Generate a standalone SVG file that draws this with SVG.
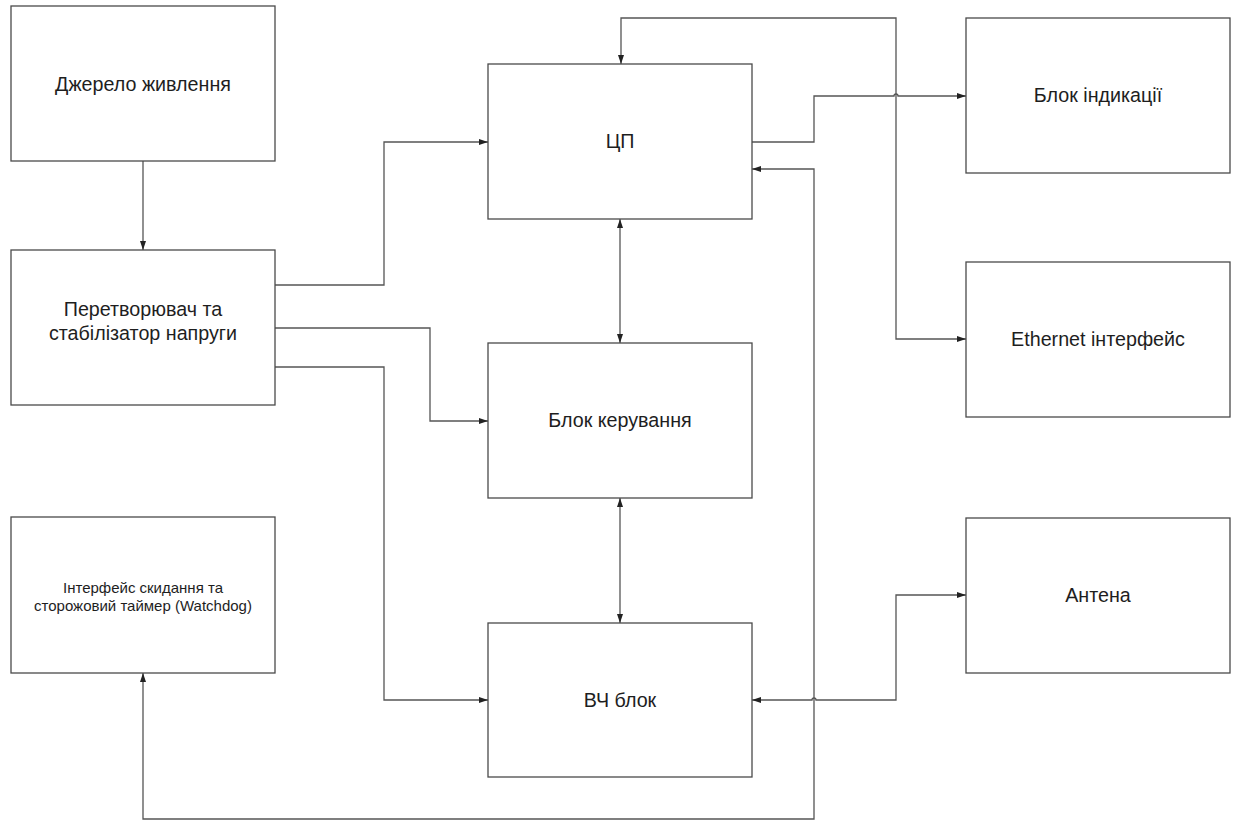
<svg xmlns="http://www.w3.org/2000/svg" width="1235" height="821" viewBox="0 0 1235 821">
  <style>
    .box { fill: #ffffff; stroke: #4a4a4a; stroke-width: 1.3; }
    .lbl { font-family: "Liberation Sans", Arial, sans-serif; font-size: 19.7px; fill: #1e1e1e; text-anchor: middle; }
    .sm { font-size: 15px; }
    .wire { fill: none; stroke: #555555; stroke-width: 1.3; }
    .one { marker-end: url(#arrow); }
    .two { marker-start: url(#arrow); marker-end: url(#arrow); }
  </style>
  <defs>
    <marker id="arrow" markerUnits="userSpaceOnUse" markerWidth="10" markerHeight="7" refX="9" refY="3" orient="auto-start-reverse">
      <path d="M0,0 L9,3 L0,6 z" fill="#222222"/>
    </marker>
  </defs>
  <rect width="1235" height="821" fill="#ffffff"/>

  <!-- connectors -->
  <g id="connectors">
    <path class="wire one" d="M143 161 V250"/>
    <path class="wire one" d="M275 285 H384 V142 H488"/>
    <path class="wire one" d="M275 328 H430 V421 H488"/>
    <path class="wire one" d="M275 367 H384 V700 H488"/>
    <path class="wire two" d="M620 219 V343"/>
    <path class="wire two" d="M620 498 V623"/>
    <path class="wire one" d="M752 142 H814 V96 H894 A2 2 0 0 1 898 96 H966"/>
    <path class="wire two" d="M966 339 H896 V18 H621 V64"/>
    <path class="wire two" d="M752 169 H814 V819 H143 V673"/>
    <path class="wire two" d="M752 700 H812 A2 2 0 0 1 816 700 H896 V595 H966"/>
  </g>

  <!-- left column -->
  <g id="power-source">
    <rect class="box" x="11" y="6" width="264" height="155"/>
    <text class="lbl" x="143" y="91">Джерело живлення</text>
  </g>
  <g id="voltage-converter">
    <rect class="box" x="11" y="250" width="264" height="155"/>
    <text class="lbl" x="143" y="316">Перетворювач та</text>
    <text class="lbl" x="143" y="340">стабілізатор напруги</text>
  </g>
  <g id="watchdog">
    <rect class="box" x="11" y="517" width="264" height="156"/>
    <text class="lbl sm" x="143" y="593">Інтерфейс скидання та</text>
    <text class="lbl sm" x="143" y="611">сторожовий таймер (Watchdog)</text>
  </g>

  <!-- middle column -->
  <g id="cpu">
    <rect class="box" x="488" y="64" width="264" height="155"/>
    <text class="lbl" x="620" y="148">ЦП</text>
  </g>
  <g id="control-unit">
    <rect class="box" x="488" y="343" width="264" height="155"/>
    <text class="lbl" x="620" y="427">Блок керування</text>
  </g>
  <g id="rf-unit">
    <rect class="box" x="488" y="623" width="264" height="154"/>
    <text class="lbl" x="620" y="707">ВЧ блок</text>
  </g>

  <!-- right column -->
  <g id="display-unit">
    <rect class="box" x="966" y="18" width="264" height="155"/>
    <text class="lbl" x="1098" y="102">Блок індикації</text>
  </g>
  <g id="ethernet">
    <rect class="box" x="966" y="262" width="264" height="155"/>
    <text class="lbl" x="1098" y="346">Ethernet інтерфейс</text>
  </g>
  <g id="antenna">
    <rect class="box" x="966" y="518" width="264" height="155"/>
    <text class="lbl" x="1098" y="602">Антена</text>
  </g>
</svg>
